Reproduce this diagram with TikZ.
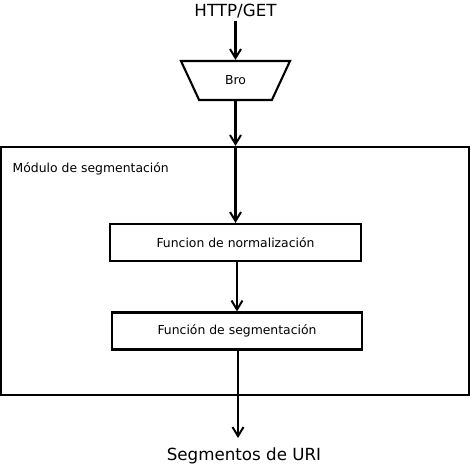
\documentclass[tikz,border=0pt]{standalone}
\usepackage{fontspec}
\setmainfont{DejaVu Sans}
\usepackage{tikz}
\tikzset{
    bigtext/.style={font=\fontsize{16.7}{19}\selectfont, inner sep=0pt},
    smalltext/.style={font=\fontsize{12.4}{14}\selectfont, inner sep=0pt},
    filter/.style={draw, line width=2.1pt, trapezium, shape border rotate=180,
        trapezium angle=60.5, trapezium stretches=true,
        minimum width=109pt, minimum height=39pt, smalltext},
    module/.style={draw, line width=2.2pt, minimum width=468pt, minimum height=248pt},
    func/.style={draw, line width=2.1pt, minimum height=37pt, smalltext},
    flow/.style = {-{Straight Barb[length=9pt,width=11pt,line width=2pt]}, line width=2.1pt} }
\usetikzlibrary{arrows.meta, positioning, shapes.geometric}

\begin{document}
\begin{tikzpicture}[x=1pt, y=1pt]
      \useasboundingbox (0,0) rectangle (472,-468);
      \node[bigtext] (http) at (235.5,-11) {HTTP/GET};
      \node[filter] (bro) at (235.5,-80.5) {Bro};
      \node[module] (mod) at (235,-271) {};
      \node[smalltext, anchor=west] (modname) at (12.5,-169) {Módulo de segmentación};
      \node[func, minimum width=251pt] (norm) at (235.5,-242.5) {Funcion de normalización};
      \node[func, minimum width=250pt] (seg) at (237,-331) {Función de segmentación};
      \node[bigtext] (uri) at (244,-456) {Segmentos de URI};
      \coordinate (out) at (238,-438);
      % ----
      \draw[flow] (http.south |- 0,-21) -- (http.south |- bro.north);
      \draw[flow] (bro.south) -- (bro.south |- mod.north);
      \draw[flow] (bro.south |- mod.north) -- (bro.south |- norm.north);
      \draw[flow] (norm.south -| 237,0) -- (seg.north -| 237,0);
      \draw[flow] (seg.south -| out) -- (out);
    \end{tikzpicture}
\end{document}
